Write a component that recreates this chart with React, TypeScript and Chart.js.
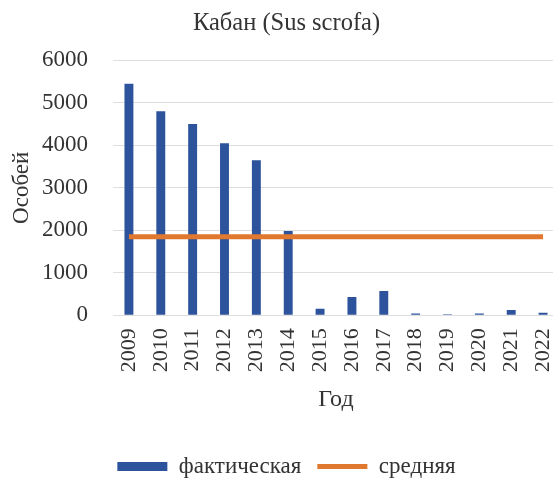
import React, { useEffect, useRef } from "react";
import { Chart, registerables } from "chart.js";

Chart.register(...registerables);

const years = ["2009", "2010", "2011", "2012", "2013", "2014", "2015", "2016", "2017", "2018", "2019", "2020", "2021", "2022"];
const actual = [5450, 4800, 4500, 4050, 3650, 1980, 150, 430, 570, 40, 20, 40, 120, 60];
const average = [1850, 1850, 1850, 1850, 1850, 1850, 1850, 1850, 1850, 1850, 1850, 1850, 1850, 1850];
const seriesNames = ["фактическая", "средняя"];
const titleText = "Кабан (Sus scrofa)";
const yTitle = "Особей";
const xTitle = "Год";

const FONT = "'Liberation Serif', 'DejaVu Serif', serif";
const TEXT = "#333333";

export default function App() {
  const ref = useRef<HTMLCanvasElement | null>(null);
  useEffect(() => {
    if (!ref.current) return;
    const chart = new Chart(ref.current, {
      type: "bar",
      data: {
        labels: years,
        datasets: [
          {
            type: "bar",
            label: seriesNames[0],
            data: actual,
            backgroundColor: "#2C539B",
            borderWidth: 0,
            barPercentage: 0.28,
            categoryPercentage: 1,
            pointStyle: "rect",
            order: 2,
          } as any,
          {
            type: "line",
            label: seriesNames[1],
            data: average,
            borderColor: "#E0782F",
            backgroundColor: "#E0782F",
            borderWidth: 5,
            pointRadius: 0,
            pointStyle: "line",
            order: 1,
          } as any,
        ],
      },
      options: {
        responsive: false,
        animation: false,
        layout: { padding: { left: 14, right: 13, top: 0, bottom: 0 } },
        plugins: {
          title: {
            display: true,
            text: titleText,
            color: TEXT,
            font: { family: FONT, size: 24.5, weight: "normal" },
            padding: { top: 9, bottom: 22 },
          },
          legend: {
            position: "bottom",
            labels: {
              usePointStyle: true,
              pointStyleWidth: 50,
              boxHeight: 9,
              padding: 16,
              color: TEXT,
              font: { family: FONT, size: 23 },
              sort: (a: any, b: any) => a.datasetIndex - b.datasetIndex,
            },
          },
          tooltip: { enabled: false },
        },
        scales: {
          x: {
            afterFit: (scale: any) => {
              scale.paddingRight = 0;
              scale.paddingLeft = 0;
            },
            grid: { display: false, drawTicks: false },
            border: { display: false },
            ticks: {
              color: TEXT,
              font: { family: FONT, size: 22 },
              minRotation: 90,
              maxRotation: 90,
              padding: 13,
              autoSkip: false,
            },
            title: {
              display: true,
              text: xTitle,
              color: TEXT,
              font: { family: FONT, size: 24 },
              padding: { top: 0, bottom: 25 },
            },
          },
          y: {
            min: 0,
            max: 6000,
            afterFit: (scale: any) => {
              scale.width = 99;
            },
            grid: { color: "#dedede", drawTicks: false, lineWidth: 1 },
            border: { display: false },
            ticks: {
              stepSize: 1000,
              color: TEXT,
              font: { family: FONT, size: 23 },
              padding: 25,
              callback: (v: any) => String(v),
            },
            title: {
              display: true,
              text: yTitle,
              color: TEXT,
              font: { family: FONT, size: 23 },
              padding: { top: -6, bottom: 4 },
            },
          },
        },
      },
    });
    return () => chart.destroy();
  }, []);
  return (
    <div style={{ position: "fixed", left: 0, top: 0, width: 553, height: 483, overflow: "hidden", background: "#fff" }}>
      <canvas ref={ref} width={572} height={488} style={{ display: "block" }} />
    </div>
  );
}
